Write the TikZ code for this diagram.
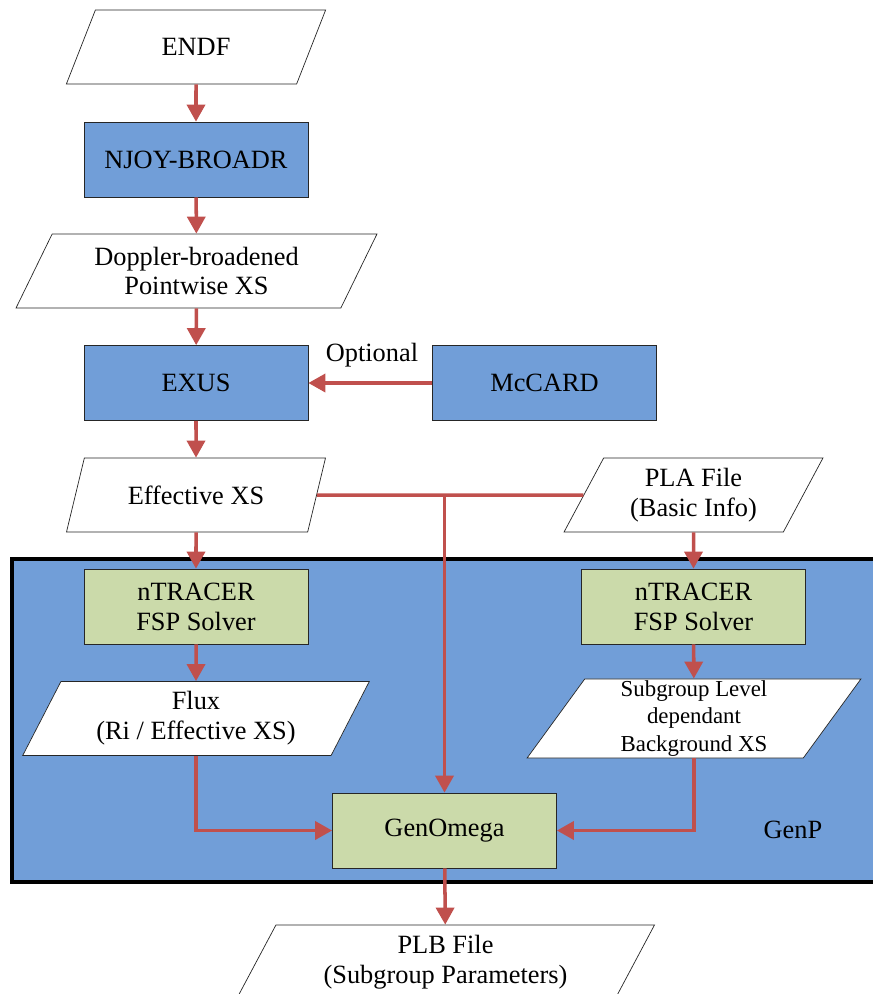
\documentclass[tikz,border=0pt]{standalone}
\usepackage{fontspec}
\setmainfont{Liberation Serif}
\usetikzlibrary{arrows.meta,shapes.geometric}
\definecolor{boxblue}{RGB}{113,158,216}
\definecolor{boxgreen}{RGB}{203,218,170}
\definecolor{arrred}{RGB}{192,80,77}

\begin{document}
\begin{tikzpicture}[
    font=\fontsize{15}{17}\selectfont,
    proc/.style={draw=black!85,thin,minimum width=4.48cm,minimum height=1.5cm,fill=boxblue,align=center},
    solver/.style={proc,fill=boxgreen},
    data/.style={trapezium,trapezium left angle=63.4,trapezium right angle=116.6,trapezium stretches=true,
        draw=black!85,thin,fill=white,minimum height=1.48cm,align=center,inner sep=1pt},
    arr/.style={draw=arrred,line width=2pt,-{Triangle[length=0.34cm,width=0.36cm]}},
    link/.style={draw=arrred,line width=2pt}
]
\useasboundingbox (0,0) rectangle (17.46,-19.88);

% GenP frame
\node[draw,line width=0.08cm,fill=boxblue,minimum width=17.6cm,minimum height=6.46cm,anchor=north west] (genp) at (0.2,-11.14) {};
\node (genplbl) at (15.86,-16.6) {GenP};

\node[data,minimum width=5.2cm] (endf) at (3.92,-0.94) {ENDF};
\node[proc] (njoy) at (3.92,-3.19) {NJOY-BROADR};
\node[data,minimum width=7.22cm] (dopp) at (3.93,-5.42) {Doppler-broadened\\Pointwise XS};
\node[proc] (exus) at (3.92,-7.66) {EXUS};
\node[proc] (mccard) at (10.89,-7.66) {McCARD};
\node (optlbl) at (7.44,-7.1) {Optional};
\node[data,minimum width=5.2cm] (effxs) at (3.92,-9.9) {Effective XS};
\node[data,minimum width=5.18cm] (pla) at (13.87,-9.9) {PLA File\\(Basic Info)};

\node[solver] (ntrl) at (3.92,-12.13) {nTRACER\\FSP Solver};
\node[solver] (ntrr) at (13.87,-12.13) {nTRACER\\FSP Solver};
\node[data,minimum width=6.94cm] (flux) at (3.92,-14.37) {Flux\\(Ri / Effective XS)};
\node[data,minimum width=6.68cm,font=\fontsize{13}{15.6}\selectfont] (subg) at (13.88,-14.37) {Subgroup Level\\dependant\\Background XS};
\node[solver] (genomega) at (8.89,-16.61) {GenOmega};
\node[data,minimum width=8.38cm] (plb) at (8.91,-19.24) {PLB File\\(Subgroup Parameters)};

\draw[arr] (endf) -- (njoy);
\draw[arr] (njoy) -- (dopp);
\draw[arr] (dopp) -- (exus);
\draw[arr] (mccard) -- (exus);
\draw[arr] (exus) -- (effxs);
\draw[link] (effxs) -- (pla);
\coordinate (join) at (genomega |- effxs);
\draw[arr] (join) -- (genomega);
\draw[arr] (effxs) -- (ntrl);
\draw[arr] (pla) -- (ntrr);
\draw[arr] (ntrl) -- (flux);
\draw[arr] (ntrr) -- (subg);
\draw[arr] (flux) |- (genomega);
\draw[arr] (subg) |- (genomega);
\draw[arr] (genomega) -- (plb);
\end{tikzpicture}
\end{document}
